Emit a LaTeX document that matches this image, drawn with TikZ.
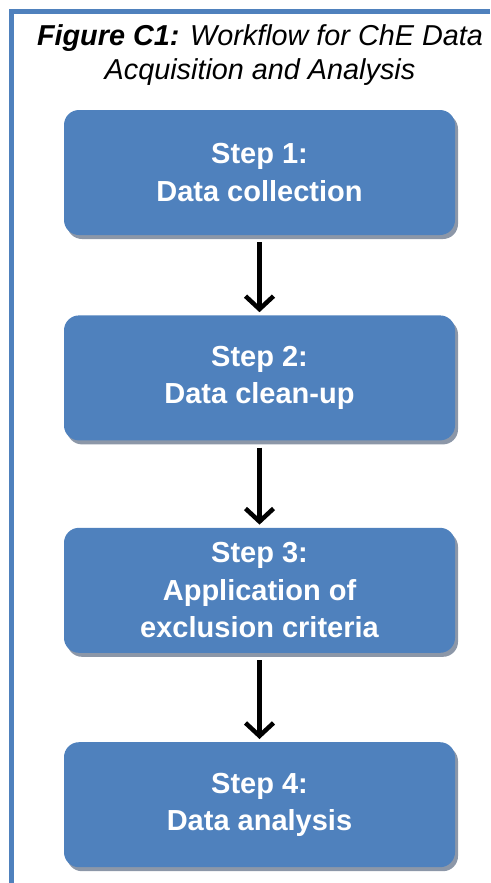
\documentclass[tikz,border=0pt]{standalone}
\usepackage{fontspec}
\setmainfont{Liberation Sans}
\usetikzlibrary{positioning,shadows,arrows.meta}
\definecolor{stepblue}{RGB}{79,129,189}
\definecolor{stepshade}{RGB}{140,151,168}

\begin{document}
\begin{tikzpicture}[x=1pt, y=-1pt,
stepbox/.style={rectangle, rounded corners=15pt, fill=stepblue, text=white, minimum width=391pt, minimum height=125pt, align=center, font=\fontsize{29}{37.5}\selectfont\bfseries, drop shadow={shadow xshift=3pt, shadow yshift=-4pt, fill=stepshade, opacity=1}},
flow/.style={-{Straight Barb[length=13pt,width=28pt]}, line width=4.5pt, shorten <=7pt, shorten >=3pt},
frame/.style={draw=stepblue, line width=5pt},
title/.style={align=center, font=\fontsize{28.8}{34}\selectfont\itshape}
]
\useasboundingbox (0,0) rectangle (490,883);
\draw[frame] (11,883) -- (11,12) -- (490,12);
\node[title] (head) at (260,55) {\textbf{Figure C1:} Workflow for ChE Data\\Acquisition and Analysis};

\node[stepbox] (s1) at (259.5,172.5) {Step 1:\\Data collection};
\node[stepbox, below=80pt of s1] (s2) {Step 2:\\Data clean-up};
\node[stepbox, below=87pt of s2] (s3) {Step 3:\\Application of\\exclusion criteria};
\node[stepbox, below=89pt of s3] (s4) {Step 4:\\Data analysis};

\draw[flow] (s1) -- (s2);
\draw[flow] (s2) -- (s3);
\draw[flow] (s3) -- (s4);
\end{tikzpicture}
\end{document}
